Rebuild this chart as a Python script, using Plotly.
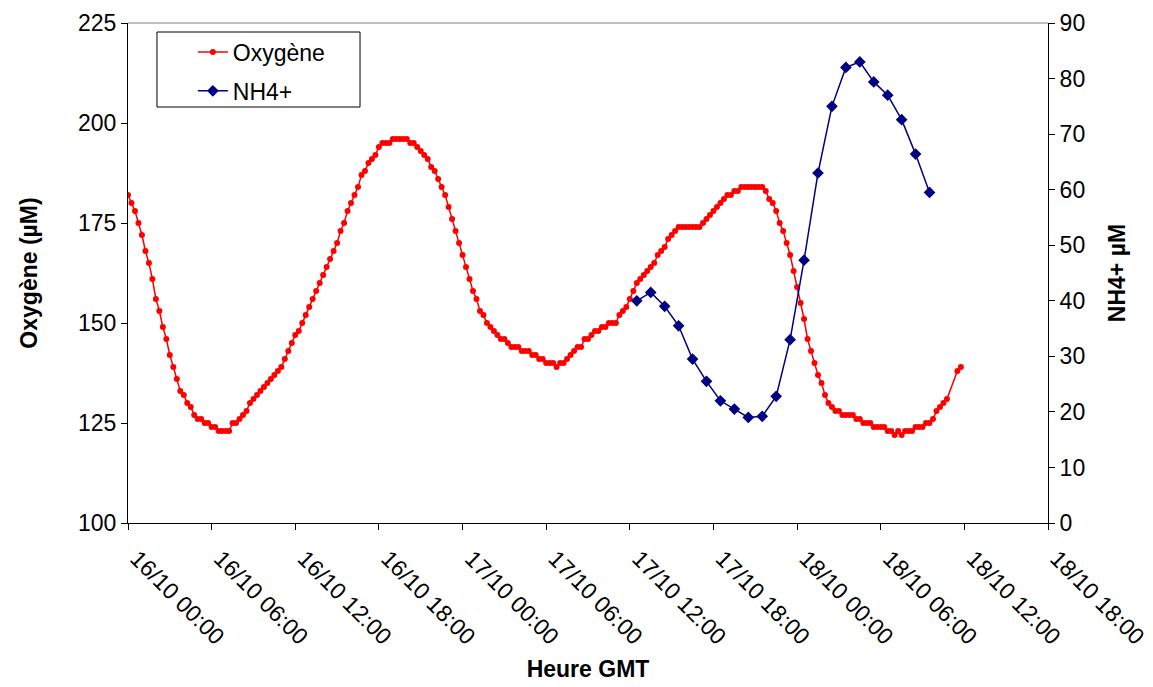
import pandas as pd
import plotly.graph_objects as go

# Oxygen (µM), one reading every 15 minutes from 16/10 00:00 (None = missing reading)
oxy_start = "2006-10-16 00:00"
oxy_step = "15min"
oxygene = [
    182, 180, 178, 175, 172, 168, 165, 161, 156, 153, 149, 146, 142, 139, 136, 133,
    132, 130, 129, 127, 126, 126, 125, 125, 124, 124, 123, 123, 123, 123, 125, 125,
    126, 127, 128, 130, 131, 132, 133, 134, 135, 136, 137, 138, 139, 141, 143, 145,
    147, 148, 150, 152, 154, 156, 158, 160, 162, 164, 166, 168, 170, 173, 175, 178,
    180, 182, 184, 187, 188, 190, 191, 192, 194, 195, 195, 195, 196, 196, 196, 196,
    196, 195, 195, 194, 193, 192, 191, 189, 188, 186, 184, 182, 179, 176, 173, 170,
    167, 164, 161, 158, 156, 153, 152, 150, 149, 148, 147, 146, 146, 145, 144, 144,
    144, 143, 143, 143, 142, 142, 141, 141, 140, 140, 140, 139, 140, 140, 141, 142,
    143, 144, 144, 146, 146, 147, 148, 148, 149, 149, 150, 150, 150, 152, 153, 154,
    156, 158, 160, 161, 162, 163, 164, 165, 167, 168, 169, 171, 172, 173, 174, 174,
    174, 174, 174, 174, 174, 175, 176, 177, 178, 179, 180, 181, 182, 182, 183, 183,
    184, 184, 184, 184, 184, 184, 184, 183, 181, 180, 178, 175, 173, 170, 167, 163,
    159, 155, 151, 146, 143, 140, 137, 135, 132, 130, 129, 128, 128, 127, 127, 127,
    127, 126, 126, 125, 125, 125, 124, 124, 124, 124, 123, 123, 122, 123, 122, 123,
    123, 123, 124, 124, 124, 125, 125, 126, 128, 129, 130, 131, None, None, 138, 139,
]

# NH4+ (µM), hourly from 17/10 12:30
nh4_start = "2006-10-17 12:30"
nh4_step = "1h"
nh4 = [40, 41.5, 39, 35.5, 29.5, 25.5, 22, 20.5, 19, 19.2, 22.8, 33,
       47.3, 63, 75, 82, 83, 79.4, 77, 72.6, 66.4, 59.5]

oxy_time = pd.date_range(oxy_start, periods=len(oxygene), freq=oxy_step)
nh4_time = pd.date_range(nh4_start, periods=len(nh4), freq=nh4_step)

FONT = "Arial, Liberation Sans, sans-serif"
FS = 23

fig = go.Figure()
fig.add_trace(go.Scatter(
    x=oxy_time, y=oxygene, name="Oxygène", mode="lines+markers",
    line=dict(color="#FF0000", width=1.5),
    marker=dict(color="#FF0000", size=6, symbol="circle"),
    connectgaps=True, legendgroup="a", yaxis="y",
))
fig.add_trace(go.Scatter(
    x=nh4_time, y=nh4, name="NH4+", mode="lines+markers",
    line=dict(color="#000080", width=1.5),
    marker=dict(color="#000080", size=9, symbol="diamond"),
    legendgroup="b", yaxis="y2",
))

# plot-area frame pieces: top border and legend box
fig.add_shape(type="line", xref="paper", yref="paper", x0=0, x1=1, y0=1, y1=1,
              line=dict(color="#808080", width=1))
fig.add_shape(type="rect", xref="paper", yref="paper",
              x0=0.0315, x1=0.2522, y0=0.832, y1=0.982,
              line=dict(color="black", width=1), fillcolor="white", layer="below")

fig.update_layout(
    width=1153, height=687,
    margin=dict(l=120, r=113, t=15, b=172, autoexpand=False),
    paper_bgcolor="white", plot_bgcolor="white",
    font=dict(family=FONT, size=FS, color="black"),
    showlegend=True,
    legend=dict(x=0.0705, y=0.985, xanchor="left", yanchor="top",
                bgcolor="rgba(0,0,0,0)", borderwidth=0,
                font=dict(size=FS), tracegroupgap=6, itemwidth=30),
    xaxis=dict(
        type="date", automargin=False,
        range=["2006-10-16 00:00", "2006-10-18 18:00"],
        dtick=6 * 3600 * 1000, tick0="2006-10-16 00:00",
        tickformat="%d/%m %H:%M", tickangle=45,
        ticklabelshift=9, ticklabelstandoff=6,
        ticks="outside", ticklen=6, tickcolor="black",
        showline=True, linecolor="black", linewidth=1,
        showgrid=False, zeroline=False,
        title=dict(text="<b>Heure GMT</b>", font=dict(size=FS), standoff=12),
    ),
    yaxis=dict(
        automargin=False,
        range=[100, 225], dtick=25, tick0=100,
        ticks="outside", ticklen=6, tickcolor="black",
        showline=True, linecolor="black", linewidth=1,
        showgrid=False, zeroline=False,
        title=dict(text="<b>Oxygène (µM)</b>", font=dict(size=FS), standoff=33),
    ),
    yaxis2=dict(
        automargin=False,
        range=[0, 90], dtick=10, tick0=0,
        overlaying="y", side="right",
        ticks="outside", ticklen=6, tickcolor="black",
        showline=True, linecolor="black", linewidth=1,
        showgrid=False, zeroline=False,
        title=dict(text="<b>NH4+ µM</b>", font=dict(size=FS), standoff=24),
    ),
)

fig.write_html("out.html")
